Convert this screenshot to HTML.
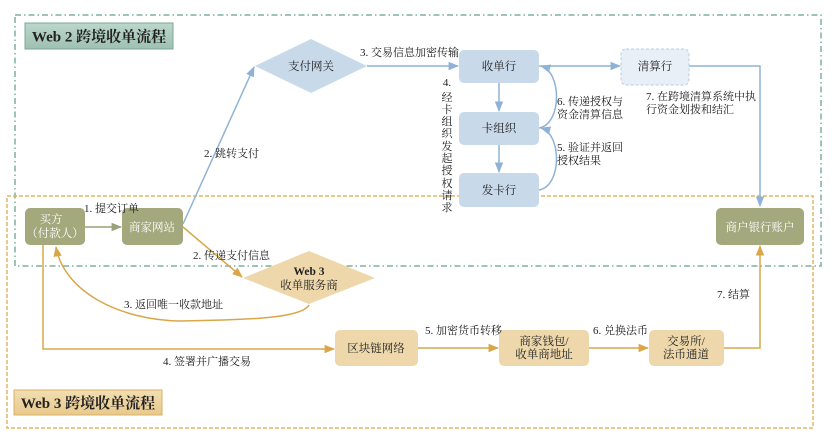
<!DOCTYPE html>
<html><head><meta charset="utf-8"><style>
html,body{margin:0;padding:0;background:#fff;}
svg{display:block;}
text{font-family:"Liberation Serif","Noto Serif CJK SC",serif;fill:#222;}
.l{font-size:11px;}
.b{font-size:11.5px;}
.w{fill:#fff;}
</style></head><body>
<svg width="832" height="446" viewBox="0 0 832 446" xmlns="http://www.w3.org/2000/svg">
<defs>
<linearGradient id="g2" x1="0" y1="0" x2="0" y2="1"><stop offset="0" stop-color="#bcd6cb"/><stop offset="1" stop-color="#9ec1b2"/></linearGradient>
<linearGradient id="g3" x1="0" y1="0" x2="0" y2="1"><stop offset="0" stop-color="#f2deb2"/><stop offset="1" stop-color="#e8c98c"/></linearGradient>
<marker id="ab" viewBox="0 0 10 10" refX="9" refY="5" markerWidth="7" markerHeight="7" orient="auto"><path d="M0,1 L10,5 L0,9 z" fill="#8fb3d6"/></marker>
<marker id="ag" viewBox="0 0 10 10" refX="9" refY="5" markerWidth="7" markerHeight="7" orient="auto"><path d="M0,1 L10,5 L0,9 z" fill="#d9a74a"/></marker>
<marker id="ao" viewBox="0 0 10 10" refX="9" refY="5" markerWidth="7" markerHeight="7" orient="auto"><path d="M0,1 L10,5 L0,9 z" fill="#9aa07a"/></marker>
</defs>

<!-- group borders -->
<rect x="15" y="15" width="806" height="251" fill="none" stroke="#7fb0a0" stroke-width="1.5" stroke-dasharray="6 3 1.5 3"/>
<rect x="7" y="196" width="806" height="232" fill="none" stroke="#e0b665" stroke-width="1.5" stroke-dasharray="4 2"/>

<!-- titles -->
<rect x="25" y="23" width="148" height="26" fill="url(#g2)" stroke="#7aa898" stroke-width="1"/>
<text x="99" y="41.5" text-anchor="middle" style="font-size:15px;font-weight:bold;">Web 2 跨境收单流程</text>
<rect x="14" y="390" width="148" height="25" fill="url(#g3)" stroke="#d8b063" stroke-width="1"/>
<text x="88" y="408" text-anchor="middle" style="font-size:15px;font-weight:bold;">Web 3 跨境收单流程</text>

<!-- Web2 connectors -->
<line x1="183" y1="224" x2="254" y2="67" stroke="#8fb3d6" stroke-width="1.5" marker-end="url(#ab)"/>
<line x1="367" y1="66" x2="458" y2="66" stroke="#8fb3d6" stroke-width="1.5" marker-end="url(#ab)"/>
<line x1="499" y1="83" x2="499" y2="111" stroke="#8fb3d6" stroke-width="1.5" marker-end="url(#ab)"/>
<line x1="499" y1="145" x2="499" y2="172" stroke="#8fb3d6" stroke-width="1.5" marker-end="url(#ab)"/>
<line x1="539" y1="66" x2="620" y2="66" stroke="#8fb3d6" stroke-width="1.5" marker-end="url(#ab)"/>
<path d="M539,190 C562,186 562,134 541,128" fill="none" stroke="#8fb3d6" stroke-width="1.5" marker-end="url(#ab)"/>
<path d="M539,128 C562,124 562,72 541,66" fill="none" stroke="#8fb3d6" stroke-width="1.5" marker-end="url(#ab)"/>
<polyline points="689,66 760,66 760,206" fill="none" stroke="#8fb3d6" stroke-width="1.5" marker-end="url(#ab)"/>

<!-- Web3 connectors -->
<line x1="85" y1="227" x2="121" y2="227" stroke="#9aa07a" stroke-width="1.5" marker-end="url(#ao)"/>
<line x1="183" y1="227" x2="242" y2="277" stroke="#d9a74a" stroke-width="1.5" marker-end="url(#ag)"/>
<path d="M309,305 C302,318 250,320 180,321 C120,320 64,292 56,247" fill="none" stroke="#d9a74a" stroke-width="1.5" marker-end="url(#ag)"/>
<polyline points="43,245 43,349 334,349" fill="none" stroke="#d9a74a" stroke-width="1.5" marker-end="url(#ag)"/>
<line x1="418" y1="348" x2="498" y2="348" stroke="#d9a74a" stroke-width="1.5" marker-end="url(#ag)"/>
<line x1="589" y1="348" x2="648" y2="348" stroke="#d9a74a" stroke-width="1.5" marker-end="url(#ag)"/>
<polyline points="724,348 760,348 760,246" fill="none" stroke="#d9a74a" stroke-width="1.5" marker-end="url(#ag)"/>

<!-- Web2 nodes -->
<polygon points="311,39 367,66 311,93 255,66" fill="#c8dae9"/>
<text x="311" y="70" text-anchor="middle" class="b">支付网关</text>
<rect x="459" y="50" width="80" height="33" rx="5" fill="#c8dae9"/>
<text x="499" y="70" text-anchor="middle" class="b">收单行</text>
<rect x="459" y="112" width="80" height="33" rx="5" fill="#c8dae9"/>
<text x="499" y="132" text-anchor="middle" class="b">卡组织</text>
<rect x="459" y="173" width="80" height="34" rx="5" fill="#c8dae9"/>
<text x="499" y="194" text-anchor="middle" class="b">发卡行</text>
<rect x="621" y="49" width="68" height="36" rx="5" fill="#e8eff7" stroke="#b5cde3" stroke-width="1" stroke-dasharray="3 2"/>
<text x="655" y="70" text-anchor="middle" class="b">清算行</text>

<!-- olive nodes -->
<rect x="25" y="208" width="60" height="37" rx="5" fill="#a4a87d"/>
<text x="51" y="223" text-anchor="middle" class="b w">买方</text>
<text x="55" y="237" text-anchor="middle" class="b w">（付款人）</text>
<rect x="122" y="208" width="61" height="37" rx="5" fill="#a4a87d"/>
<text x="152" y="231" text-anchor="middle" class="b w">商家网站</text>
<rect x="716" y="208" width="88" height="37" rx="5" fill="#a4a87d"/>
<text x="760" y="231" text-anchor="middle" class="b w">商户银行账户</text>

<!-- Web3 nodes -->
<polygon points="309,251 375,278 309,304 243,278" fill="#eed8ab"/>
<text x="309" y="275" text-anchor="middle" class="b" style="font-weight:bold;">Web 3</text>
<text x="309" y="289" text-anchor="middle" class="b">收单服务商</text>
<rect x="335" y="330" width="83" height="36" rx="5" fill="#eed8ab"/>
<text x="376" y="352" text-anchor="middle" class="b">区块链网络</text>
<rect x="499" y="330" width="90" height="36" rx="5" fill="#eed8ab"/>
<text x="544" y="345" text-anchor="middle" class="b">商家钱包/</text>
<text x="544" y="358" text-anchor="middle" class="b">收单商地址</text>
<rect x="649" y="330" width="75" height="36" rx="5" fill="#eed8ab"/>
<text x="686" y="345" text-anchor="middle" class="b">交易所/</text>
<text x="686" y="358" text-anchor="middle" class="b">法币通道</text>

<!-- labels -->
<text x="360" y="56" class="l">3. 交易信息加密传输</text>
<text x="204" y="157" class="l">2. 跳转支付</text>
<text x="84" y="212" class="l">1. 提交订单</text>
<text x="193" y="259" class="l">2. 传递支付信息</text>
<text x="124" y="308" class="l">3. 返回唯一收款地址</text>
<text x="163" y="365" class="l">4. 签署并广播交易</text>
<text x="425" y="334" class="l">5. 加密货币转移</text>
<text x="593" y="334" class="l">6. 兑换法币</text>
<text x="717" y="298" class="l">7. 结算</text>
<text x="557" y="105" class="l">6. 传递授权与</text>
<text x="557" y="118" class="l">资金清算信息</text>
<text x="557" y="151" class="l">5. 验证并返回</text>
<text x="557" y="164" class="l">授权结果</text>
<text x="646" y="100" class="l">7. 在跨境清算系统中执</text>
<text x="646" y="113" class="l">行资金划拨和结汇</text>

<!-- vertical label 4 -->
<g class="l" text-anchor="middle">
<text x="447" y="86" class="l" text-anchor="middle">4.</text>
<text x="447" y="101" class="l" text-anchor="middle">经</text>
<text x="447" y="113" class="l" text-anchor="middle">卡</text>
<text x="447" y="125" class="l" text-anchor="middle">组</text>
<text x="447" y="137" class="l" text-anchor="middle">织</text>
<text x="447" y="150" class="l" text-anchor="middle">发</text>
<text x="447" y="162" class="l" text-anchor="middle">起</text>
<text x="447" y="174" class="l" text-anchor="middle">授</text>
<text x="447" y="187" class="l" text-anchor="middle">权</text>
<text x="447" y="199" class="l" text-anchor="middle">请</text>
<text x="447" y="211" class="l" text-anchor="middle">求</text>
</g>
</svg>
</body></html>
